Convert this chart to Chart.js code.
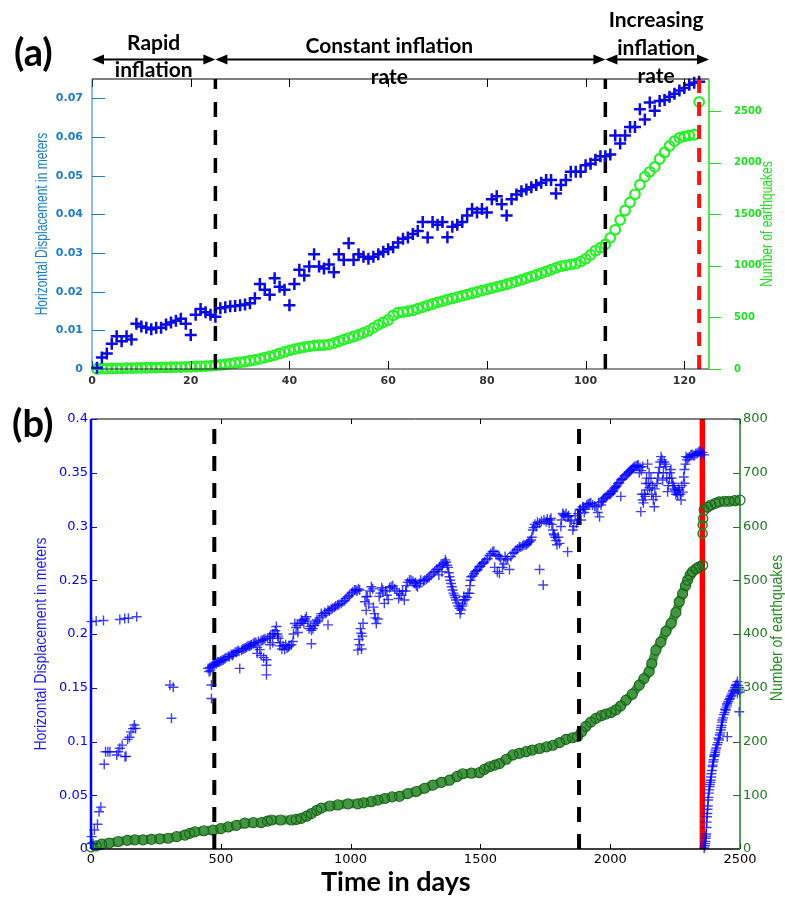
<!DOCTYPE html>
<html>
<head>
<meta charset="utf-8">
<title>Inflation and seismicity</title>
<script src="https://cdn.jsdelivr.net/npm/chart.js@4.4.1/dist/chart.umd.min.js"></script>
<style>
  body { margin: 0; background: #fff; }
  #page { position: relative; width: 785px; height: 898px; overflow: hidden; }
  canvas { position: absolute; left: 0; }
  #chartA { top: 0; }
  #chartB { top: 400px; }
  .tag { position: absolute; font-family: Lato, sans-serif; font-weight: bold; color: #000; white-space: nowrap; line-height: 1; }
</style>
</head>
<body>
<div id="page">
  <canvas id="chartA" width="785" height="400"></canvas>
  <canvas id="chartB" width="785" height="498"></canvas>
  <div class="tag" style="left:14px;top:32px;font-size:38px;">(a)</div>
  <div class="tag" style="left:12px;top:403px;font-size:38px;">(b)</div>
  <div class="tag" style="left:321px;top:867px;font-size:27px;">Time in days</div>
</div>
<script>
// ---- panel (a): one reading per day, starting at day 1 ----
const dispA = [
  0.0003, 0.003, 0.004, 0.0065, 0.0085, 0.0072, 0.0085, 0.0076, 0.0117, 0.011,
  0.0107, 0.0103, 0.0107, 0.0107, 0.0115, 0.012, 0.0125, 0.013, 0.0117, 0.0088,
  0.014, 0.0155, 0.0147, 0.014, 0.0135, 0.0157, 0.016, 0.0162, 0.0163, 0.0165,
  0.0167, 0.017, 0.0183, 0.022, 0.0205, 0.0192, 0.0235, 0.0213, 0.0205, 0.0165,
  0.022, 0.0257, 0.0242, 0.0265, 0.0297, 0.0265, 0.026, 0.027, 0.025, 0.0297,
  0.0282, 0.0325, 0.0282, 0.0297, 0.029, 0.0285, 0.029, 0.0297, 0.0303, 0.031,
  0.0315,
  0.0327, 0.0337, 0.034, 0.0349, 0.0357, 0.038, 0.034, 0.038, 0.0373, 0.038,
  0.0341, 0.0368, 0.0373, 0.038, 0.0397, 0.0414, 0.0405, 0.0414, 0.0405, 0.0439,
  0.0447, 0.0426, 0.0397, 0.0439, 0.0451, 0.046, 0.0464, 0.047, 0.0476, 0.0482,
  0.0489, 0.0489, 0.0454, 0.0476, 0.0489, 0.051, 0.051, 0.051, 0.0527, 0.0531,
  0.0541, 0.055, 0.055, 0.0555, 0.0604, 0.0583, 0.0604, 0.0626, 0.0626, 0.0672,
  0.0645, 0.0689, 0.0668, 0.0693, 0.0696, 0.0704, 0.0712, 0.072, 0.0727, 0.0735,
  0.074, 0.0743
];
const quakesA = [
  2, 3, 4, 5, 6, 7, 8, 9, 10, 11,
  12, 13, 14, 15, 16, 17, 18, 19, 20, 22,
  24, 26, 28, 31, 35, 40, 45, 52, 58, 65,
  72, 80, 88, 98, 110, 122, 135, 150, 165, 180,
  192, 202, 212, 220, 226, 230, 232, 236, 250, 268,
  285, 300, 315, 330, 350, 370, 398, 428, 452, 475,
  520, 545, 552, 560, 568, 585, 600, 615, 630, 646,
  658, 672, 684, 697, 709, 721, 734, 746, 759, 771,
  784, 796, 808, 821, 834, 849, 864, 880, 895, 911,
  928, 945, 962, 980, 996, 1005, 1013, 1021, 1040, 1068,
  1105, 1146, 1176, 1208, 1271, 1349, 1443, 1536, 1614, 1693,
  1786, 1864, 1911, 1958, 2035, 2098, 2161, 2208, 2239, 2254,
  2264, 2270, 2588
];
const dayTicksA = [0, 20, 40, 60, 80, 100, 120];
const dispTicksA = [0, 0.01, 0.02, 0.03, 0.04, 0.05, 0.06, 0.07];
const quakeTicksA = [0, 500, 1000, 1500, 2000, 2500];
const phaseBoundsA = [0, 25, 104, 125];
const phaseNamesA = [['Rapid', 'inflation'], ['Constant inflation', 'rate'], ['Increasing', 'inflation', 'rate']];
const eruptionA = 123;

// ---- panel (b): [day, value] ----
const dispB = [
  // before the first break
  [2, 0.2115], [20, 0.212], [48, 0.2125], [111, 0.2135], [130, 0.2145], [144, 0.2147], [176, 0.216],
  [3, 0.0115], [8, 0.005], [13, 0.0177], [25, 0.023], [31, 0.0347], [38, 0.039], [51, 0.0788],
  [56, 0.0905], [65, 0.0905], [73, 0.0905], [99, 0.0874], [105, 0.0905], [111, 0.0937], [120, 0.0966],
  [131, 0.0859], [135, 0.0862], [141, 0.102], [148, 0.104], [154, 0.109], [162, 0.112], [167, 0.1153], [172, 0.1122],
  [304, 0.1526], [317, 0.1504], [310, 0.1216], [464, 0.1526], [464, 0.14],
  // steady inflation
  [451, 0.168], [455, 0.165], [458, 0.169], [460, 0.166], [466, 0.17], [470, 0.171], [474, 0.1715], [477, 0.1727],
  [482, 0.172], [486, 0.1735], [490, 0.174], [494, 0.174], [500, 0.175], [505, 0.1755], [510, 0.176], [515, 0.177],
  [520, 0.178], [528, 0.179], [533, 0.179], [540, 0.181], [545, 0.18], [548, 0.1815], [555, 0.183], [560, 0.183],
  [565, 0.1845], [570, 0.184], [573, 0.168], [580, 0.185], [585, 0.186], [590, 0.1865], [595, 0.187], [600, 0.188],
  [605, 0.189], [610, 0.1885], [615, 0.1895], [618, 0.19], [625, 0.191], [630, 0.192], [635, 0.192], [640, 0.1875],
  [640, 0.182], [645, 0.193], [650, 0.1855], [655, 0.194], [655, 0.18], [660, 0.194], [665, 0.195], [665, 0.178],
  [670, 0.1955], [676, 0.176], [676, 0.162], [676, 0.171], [680, 0.196], [688, 0.1975], [690, 0.19], [692, 0.198],
  [700, 0.2], [700, 0.192], [705, 0.2], [710, 0.203], [714, 0.207], [718, 0.2], [720, 0.198], [722, 0.196],
  [727, 0.189], [730, 0.192], [735, 0.186], [740, 0.189], [746, 0.1855], [750, 0.19], [755, 0.187], [760, 0.188],
  [765, 0.189], [772, 0.19], [778, 0.193], [780, 0.2], [785, 0.2098], [790, 0.206], [795, 0.208], [797, 0.2014],
  [805, 0.21], [810, 0.213], [815, 0.212], [820, 0.21], [825, 0.214], [830, 0.216], [835, 0.212], [840, 0.205],
  [845, 0.207], [849, 0.2035], [849, 0.191], [855, 0.205], [860, 0.208], [865, 0.21], [870, 0.213], [874, 0.2116],
  [880, 0.215], [887, 0.219], [893, 0.217], [900, 0.22], [905, 0.219], [913, 0.222], [913, 0.2085], [918, 0.2215],
  [925, 0.223], [930, 0.224], [938, 0.225], [943, 0.226], [950, 0.227], [955, 0.2275], [964, 0.2285], [970, 0.23],
  [977, 0.231], [983, 0.233], [990, 0.2347], [995, 0.236], [1003, 0.238], [1008, 0.239], [1015, 0.241], [1020, 0.241],
  [1025, 0.24], [1030, 0.242], [1035, 0.241], [1028, 0.185], [1032, 0.195], [1035, 0.19], [1038, 0.205], [1041, 0.2007],
  [1042, 0.186], [1045, 0.198], [1048, 0.21], [1055, 0.23], [1060, 0.2347], [1060, 0.222], [1065, 0.235], [1070, 0.228],
  [1075, 0.24], [1080, 0.244], [1085, 0.242], [1088, 0.225], [1092, 0.219], [1095, 0.215], [1099, 0.2098], [1105, 0.214],
  [1110, 0.235], [1115, 0.238], [1120, 0.243], [1124, 0.241], [1130, 0.2285], [1135, 0.24], [1140, 0.236], [1145, 0.232],
  [1150, 0.243], [1156, 0.244], [1162, 0.245], [1170, 0.242], [1178, 0.24], [1185, 0.233], [1188, 0.2378], [1195, 0.236],
  [1200, 0.24], [1207, 0.2316], [1212, 0.24], [1215, 0.245], [1220, 0.248], [1227, 0.2502], [1233, 0.25], [1240, 0.249],
  [1246, 0.247], [1250, 0.248], [1253, 0.245], [1258, 0.244], [1265, 0.247], [1270, 0.25], [1280, 0.249], [1285, 0.25],
  [1292, 0.251], [1298, 0.252], [1304, 0.2533], [1310, 0.255], [1318, 0.257], [1323, 0.258], [1330, 0.26], [1336, 0.26],
  [1340, 0.255], [1342, 0.2626], [1348, 0.264], [1352, 0.258], [1355, 0.265], [1360, 0.266], [1365, 0.269], [1368, 0.267],
  [1372, 0.264], [1375, 0.262], [1378, 0.257], [1381, 0.2533], [1384, 0.25], [1387, 0.247], [1390, 0.244], [1393, 0.241],
  [1396, 0.238], [1400, 0.236], [1403, 0.234], [1406, 0.2316], [1410, 0.229], [1415, 0.226], [1420, 0.224], [1422, 0.219],
  [1426, 0.2223], [1430, 0.226], [1432, 0.228], [1436, 0.235], [1438, 0.2316], [1442, 0.232], [1448, 0.234], [1452, 0.238],
  [1458, 0.2378], [1460, 0.245], [1462, 0.25], [1465, 0.2533], [1470, 0.254], [1475, 0.256], [1480, 0.258], [1485, 0.259],
  [1490, 0.26], [1496, 0.2626], [1500, 0.263], [1505, 0.265], [1510, 0.266], [1515, 0.267], [1522, 0.269], [1528, 0.27],
  [1535, 0.273], [1540, 0.275], [1547, 0.2766], [1552, 0.277], [1555, 0.262], [1560, 0.274], [1565, 0.258], [1568, 0.273],
  [1573, 0.272], [1573, 0.2564], [1578, 0.27], [1585, 0.262], [1590, 0.265], [1595, 0.272], [1599, 0.269], [1605, 0.27],
  [1612, 0.26], [1618, 0.272], [1625, 0.275], [1630, 0.276], [1637, 0.278], [1643, 0.279], [1650, 0.2812], [1656, 0.281],
  [1663, 0.282], [1668, 0.283], [1676, 0.2828], [1680, 0.284], [1685, 0.285], [1690, 0.286], [1695, 0.2874], [1698, 0.29],
  [1702, 0.2967], [1705, 0.299], [1710, 0.302], [1715, 0.3], [1720, 0.304], [1728, 0.303], [1728, 0.26], [1735, 0.305],
  [1742, 0.2456], [1745, 0.306], [1753, 0.3044], [1758, 0.307], [1765, 0.303], [1768, 0.306], [1772, 0.3076], [1775, 0.302],
  [1779, 0.2967], [1782, 0.293], [1785, 0.292], [1788, 0.29], [1792, 0.287], [1795, 0.283], [1800, 0.29], [1805, 0.2843],
  [1810, 0.3], [1812, 0.306], [1817, 0.3122], [1820, 0.311], [1825, 0.31], [1830, 0.312], [1836, 0.309], [1836, 0.2766],
  [1840, 0.31], [1845, 0.305], [1850, 0.306], [1856, 0.2967], [1860, 0.3], [1865, 0.31], [1870, 0.303], [1876, 0.312],
  [1882, 0.3153], [1885, 0.316], [1888, 0.306], [1894, 0.3184], [1898, 0.318], [1900, 0.313], [1905, 0.316], [1910, 0.32],
  [1915, 0.321], [1920, 0.3215], [1925, 0.322], [1932, 0.32], [1940, 0.319], [1946, 0.3184], [1952, 0.313], [1955, 0.322],
  [1959, 0.309], [1965, 0.32], [1968, 0.323], [1972, 0.3247], [1975, 0.326], [1980, 0.327], [1985, 0.328], [1990, 0.3293],
  [1995, 0.33], [2000, 0.33], [2004, 0.331], [2009, 0.3324], [2012, 0.333], [2015, 0.335], [2018, 0.336], [2022, 0.337],
  [2025, 0.338], [2030, 0.34], [2035, 0.341], [2041, 0.3433], [2041, 0.328], [2045, 0.344], [2050, 0.345], [2055, 0.347],
  [2061, 0.348], [2065, 0.349], [2070, 0.35], [2075, 0.351], [2078, 0.352], [2082, 0.353], [2086, 0.354], [2090, 0.355],
  [2095, 0.356], [2100, 0.356], [2105, 0.357], [2108, 0.357], [2112, 0.35], [2115, 0.355], [2118, 0.3138], [2120, 0.352],
  [2122, 0.33], [2125, 0.3557], [2125, 0.3247], [2128, 0.322], [2132, 0.33], [2135, 0.328], [2138, 0.34], [2140, 0.345],
  [2144, 0.358], [2144, 0.3339], [2148, 0.34], [2150, 0.35], [2152, 0.336], [2157, 0.3448], [2160, 0.33], [2163, 0.338],
  [2166, 0.325], [2170, 0.3184], [2172, 0.335], [2176, 0.328], [2180, 0.34], [2183, 0.345], [2186, 0.35], [2190, 0.355],
  [2193, 0.36], [2196, 0.365], [2200, 0.362], [2202, 0.3433], [2205, 0.35], [2208, 0.36], [2212, 0.358], [2215, 0.3557],
  [2218, 0.345], [2221, 0.3324], [2224, 0.338], [2228, 0.345], [2230, 0.35], [2234, 0.353], [2237, 0.345], [2240, 0.3402],
  [2244, 0.338], [2247, 0.335], [2250, 0.334], [2253, 0.33], [2256, 0.332], [2260, 0.3293], [2263, 0.336], [2266, 0.334],
  [2270, 0.33], [2273, 0.3247], [2276, 0.338], [2280, 0.332], [2283, 0.346], [2286, 0.3402], [2286, 0.353], [2290, 0.358],
  [2292, 0.365], [2296, 0.362], [2300, 0.364], [2305, 0.365], [2311, 0.3666], [2315, 0.367], [2320, 0.366], [2325, 0.366],
  [2330, 0.368], [2335, 0.368], [2340, 0.369], [2345, 0.37], [2350, 0.367], [2355, 0.369], [2362, 0.3666],
  // after the eruption
  [2362, 0.001], [2365, 0.003], [2366, 0.005], [2367, 0.007], [2368, 0.01], [2369, 0.012], [2370, 0.014], [2371, 0.02],
  [2372, 0.025], [2373, 0.03], [2374, 0.033], [2375, 0.037], [2376, 0.04], [2377, 0.0456], [2378, 0.048], [2380, 0.052],
  [2381, 0.055], [2383, 0.058], [2384, 0.06], [2386, 0.062], [2387, 0.064], [2389, 0.067], [2390, 0.07], [2392, 0.073],
  [2394, 0.0766], [2395, 0.078], [2397, 0.081], [2398, 0.083], [2400, 0.0859], [2402, 0.087], [2403, 0.088], [2405, 0.09],
  [2406, 0.092], [2409, 0.094], [2412, 0.097], [2415, 0.099], [2417, 0.103], [2419, 0.1014], [2422, 0.106], [2424, 0.108],
  [2426, 0.1107], [2428, 0.113], [2429, 0.115], [2431, 0.118], [2432, 0.12], [2435, 0.122], [2438, 0.125], [2441, 0.127],
  [2443, 0.13], [2445, 0.1293], [2448, 0.132], [2450, 0.134], [2451, 0.1355], [2451, 0.1045], [2455, 0.137], [2458, 0.139],
  [2461, 0.14], [2464, 0.1417], [2467, 0.143], [2470, 0.145], [2473, 0.147], [2477, 0.148], [2480, 0.15], [2483, 0.152],
  [2486, 0.153], [2490, 0.1557], [2490, 0.145], [2493, 0.152], [2495, 0.148], [2497, 0.1277], [2497, 0.15], [2499, 0.146]
];
const quakesB = [
  [0, 4], [20, 6], [41, 9], [70, 11], [105, 14], [140, 16], [169, 17], [200, 17], [233, 18], [265, 19],
  [297, 20], [330, 23], [362, 26], [380, 29], [400, 32], [435, 34], [470, 35], [500, 38], [528, 41], [560, 44],
  [592, 48], [625, 49], [656, 49], [680, 52], [695, 54], [730, 54], [772, 54], [790, 55], [810, 57], [830, 61],
  [849, 66], [870, 72], [887, 76], [920, 80], [951, 82], [990, 84], [1028, 84], [1050, 86], [1079, 88], [1105, 91],
  [1131, 94], [1160, 97], [1188, 98], [1220, 103], [1253, 107], [1285, 113], [1317, 119], [1350, 124], [1381, 128], [1410, 135],
  [1432, 140], [1465, 141], [1496, 142], [1515, 148], [1535, 153], [1555, 156], [1573, 159], [1600, 167], [1625, 175], [1650, 178],
  [1676, 181], [1700, 184], [1728, 187], [1755, 190], [1779, 193], [1805, 198], [1830, 204], [1855, 207], [1874, 209], [1890, 218],
  [1906, 228], [1925, 236], [1945, 243], [1965, 248], [1983, 251], [2003, 254], [2022, 259], [2040, 266], [2061, 277], [2085, 288],
  [2112, 305], [2130, 317], [2150, 330], [2160, 345], [2176, 370], [2195, 385], [2215, 405], [2235, 420], [2253, 440], [2266, 460],
  [2279, 475], [2290, 490], [2298, 500], [2308, 510], [2317, 516], [2330, 521], [2343, 525], [2356, 528]
];
const quakesJumpB = [[2356, 587], [2356, 603], [2358, 615]];
const quakesAfterB = [
  [2362, 631], [2375, 636], [2388, 640], [2405, 643], [2420, 646], [2440, 647], [2458, 647], [2480, 648], [2500, 649]
];
const dayTicksB = [0, 500, 1000, 1500, 2000, 2500];
const dispTicksB = [0, 0.05, 0.1, 0.15, 0.2, 0.25, 0.3, 0.35, 0.4];
const quakeTicksB = [0, 100, 200, 300, 400, 500, 600, 700, 800];
const phaseBoundsB = [475, 1880];
const eruptionB = 2355;

const blueA = '#1b7cc8';
const greenA = '#1fe01f';
const greenB = '#1d7a1d';

const daily = arr => arr.map((y, i) => ({ x: i + 1, y }));
const pts = arr => arr.map(([x, y]) => ({ x, y }));
const vline = (x, y0, y1) => [{ x, y: y0 }, { x, y: y1 }];
const fixedTicks = list => scale => { scale.ticks = list.map(value => ({ value })); };
const num = v => String(+(+v).toFixed(3));

function seg(ctx, x1, y1, x2, y2, color, width) {
  ctx.beginPath();
  ctx.strokeStyle = color;
  ctx.lineWidth = width;
  ctx.moveTo(x1, y1);
  ctx.lineTo(x2, y2);
  ctx.stroke();
}

// box round the plot with inward/outward tick marks, matlab style
const axesFrame = {
  id: 'axesFrame',
  afterDatasetsDraw(chart, args, o) {
    const { ctx, chartArea: a, scales } = chart;
    ctx.save();
    seg(ctx, a.left, a.top, a.right, a.top, o.topColor, 1);
    seg(ctx, a.left, a.bottom, a.right, a.bottom, o.bottomColor, o.bottomWidth);
    for (const t of scales.x.ticks) {
      const px = Math.round(scales.x.getPixelForValue(t.value)) + 0.5;
      seg(ctx, px, a.top, px, a.top + o.xTick, '#000', 1);
      seg(ctx, px, a.bottom, px, a.bottom - o.xTick, '#000', 1);
    }
    seg(ctx, a.left, a.top, a.left, a.bottom, o.leftColor, o.leftWidth);
    for (const t of scales.y.ticks) {
      const py = Math.round(scales.y.getPixelForValue(t.value)) + 0.5;
      seg(ctx, a.left, py, a.left + o.yTick, py, o.leftColor, 1);
    }
    seg(ctx, a.right, a.top, a.right, a.bottom, o.rightColor, o.rightWidth);
    for (const t of scales.y1.ticks) {
      const py = Math.round(scales.y1.getPixelForValue(t.value)) + 0.5;
      seg(ctx, a.right, py, a.right + o.y1Tick, py, o.rightColor, 1);
    }
    ctx.restore();
  }
};

// vertical axis titles, both reading bottom to top
const sideTitles = {
  id: 'sideTitles',
  afterDraw(chart, args, o) {
    const { ctx, chartArea: a } = chart;
    const cy = (a.top + a.bottom) / 2;
    for (const t of o.items || []) {
      ctx.save();
      ctx.translate(t.side === 'left' ? a.left - t.offset : a.right + t.offset, cy + (t.dy || 0));
      ctx.rotate(-Math.PI / 2);
      ctx.scale(1, t.stretch || 1);
      ctx.font = t.font;
      ctx.fillStyle = t.color;
      ctx.textAlign = 'center';
      ctx.textBaseline = 'middle';
      ctx.fillText(t.text, 0, 0);
      ctx.restore();
    }
  }
};

// double-headed arrows over the top axis naming each inflation phase
const phaseArrows = {
  id: 'phaseArrows',
  afterDraw(chart, args, o) {
    if (!o.bounds) return;
    const { ctx, scales: { x } } = chart;
    const y = o.y, head = 12, half = 5;
    ctx.save();
    ctx.fillStyle = '#000';
    ctx.strokeStyle = '#000';
    ctx.lineWidth = 2;
    for (let i = 0; i < o.bounds.length - 1; i++) {
      const x1 = x.getPixelForValue(o.bounds[i]);
      const x2 = x.getPixelForValue(o.bounds[i + 1]);
      ctx.beginPath();
      ctx.moveTo(x1 + head - 2, y);
      ctx.lineTo(x2 - head + 2, y);
      ctx.stroke();
      ctx.beginPath();
      ctx.moveTo(x1, y); ctx.lineTo(x1 + head, y - half); ctx.lineTo(x1 + head, y + half); ctx.closePath();
      ctx.fill();
      ctx.beginPath();
      ctx.moveTo(x2, y); ctx.lineTo(x2 - head, y - half); ctx.lineTo(x2 - head, y + half); ctx.closePath();
      ctx.fill();

      ctx.font = 'bold 21px Lato';
      ctx.textAlign = 'center';
      ctx.textBaseline = 'middle';
      const cx = (x1 + x2) / 2 + o.dx[i];
      o.names[i].forEach((line, j) => ctx.fillText(line, cx, o.rows[i][j]));
    }
    ctx.restore();
  }
};

const noGrid = { display: false, drawTicks: false };

new Chart(document.getElementById('chartA'), {
  type: 'scatter',
  data: {
    datasets: [
      {
        data: daily(dispA), yAxisID: 'y', order: 1, clip: false,
        pointStyle: 'cross', pointRadius: 6, pointBorderWidth: 2.5,
        borderColor: 'rgb(10,10,225)'
      },
      {
        data: daily(quakesA), yAxisID: 'y1', order: 3, clip: false,
        pointStyle: 'circle', pointRadius: 4.8, pointBorderWidth: 2.2,
        borderColor: 'rgb(40,240,40)', backgroundColor: 'transparent'
      },
      {
        data: vline(phaseBoundsA[1], 0, 0.075), yAxisID: 'y', order: 2, showLine: true,
        pointRadius: 0, borderColor: '#000', borderWidth: 3.5, borderDash: [15, 13]
      },
      {
        data: vline(phaseBoundsA[2], 0, 0.075), yAxisID: 'y', order: 2, showLine: true,
        pointRadius: 0, borderColor: '#000', borderWidth: 3.5, borderDash: [15, 13]
      },
      {
        data: vline(eruptionA, 0, 0.075), yAxisID: 'y', order: 0, showLine: true,
        pointRadius: 0, borderColor: '#ff1111', borderWidth: 4, borderDash: [14, 9]
      }
    ]
  },
  options: {
    responsive: false,
    animation: false,
    devicePixelRatio: 1,
    layout: { padding: { top: 79, left: 0, right: 0, bottom: 0 } },
    plugins: {
      legend: { display: false },
      tooltip: { enabled: false },
      axesFrame: {
        topColor: '#000', bottomColor: '#222', bottomWidth: 1,
        leftColor: blueA, leftWidth: 1, rightColor: greenA, rightWidth: 1.5,
        xTick: 8, yTick: 13, y1Tick: 12
      },
      sideTitles: {
        items: [
          { side: 'left', offset: 49, text: 'Horizontal Displacement in meters', font: '12px "Liberation Sans"', color: blueA, stretch: 1.3 },
          { side: 'right', offset: 59, text: 'Number of earthquakes', font: '12px "Liberation Sans"', color: greenA, stretch: 1.3 }
        ]
      },
      phaseArrows: {
        y: 59.5,
        bounds: phaseBoundsA,
        names: phaseNamesA,
        dx: [0, -21, -1],
        rows: [[43, 70], [46, 77], [20, 48, 76]]
      }
    },
    scales: {
      x: {
        type: 'linear', min: 0, max: 125,
        afterBuildTicks: fixedTicks(dayTicksA),
        afterFit: s => { s.height = 21; },
        grid: noGrid, border: { display: false },
        ticks: {
          padding: 6, maxRotation: 0, autoSkip: false, callback: num,
          color: '#333', font: { family: 'DejaVu Sans', size: 11, weight: 'bold' }
        }
      },
      y: {
        position: 'left', min: 0, max: 0.075,
        afterBuildTicks: fixedTicks(dispTicksA),
        afterFit: s => { s.width = 92; },
        grid: noGrid, border: { display: false },
        ticks: {
          padding: 9, autoSkip: false, callback: num,
          color: blueA, font: { family: 'DejaVu Sans', size: 11, weight: 'bold' }
        }
      },
      y1: {
        position: 'right', min: 0, max: 2810,
        afterBuildTicks: fixedTicks(quakeTicksA),
        afterFit: s => { s.width = 76; },
        grid: noGrid, border: { display: false },
        ticks: {
          padding: 25, autoSkip: false, callback: num,
          color: greenA, font: { family: 'DejaVu Sans', size: 10, weight: 'bold' }
        }
      }
    }
  },
  plugins: [axesFrame, sideTitles, phaseArrows]
});

new Chart(document.getElementById('chartB'), {
  type: 'scatter',
  data: {
    datasets: [
      {
        data: pts(dispB), yAxisID: 'y', order: 1, clip: false,
        pointStyle: 'cross', pointRadius: 5, pointBorderWidth: 1.4,
        borderColor: 'rgba(0,0,255,0.75)'
      },
      {
        data: pts(quakesB), yAxisID: 'y1', order: 3, clip: false, showLine: true,
        borderColor: 'rgba(35,130,35,0.85)', borderWidth: 9,
        pointRadius: 5, pointBorderWidth: 1.2, pointBorderColor: 'rgb(25,105,25)',
        pointBackgroundColor: 'transparent'
      },
      {
        data: pts(quakesAfterB), yAxisID: 'y1', order: 3, clip: false, showLine: true,
        borderColor: 'rgba(35,130,35,0.85)', borderWidth: 9,
        pointRadius: 5, pointBorderWidth: 1.2, pointBorderColor: 'rgb(25,105,25)',
        pointBackgroundColor: 'transparent'
      },
      {
        data: pts(quakesJumpB), yAxisID: 'y1', order: 0, clip: false,
        pointRadius: 4.5, pointBorderWidth: 1.5, borderColor: 'rgb(40,125,40)',
        backgroundColor: 'transparent'
      },
      {
        data: vline(phaseBoundsB[0], 0, 0.398), yAxisID: 'y', order: 2, showLine: true,
        pointRadius: 0, borderColor: '#000', borderWidth: 4, borderDash: [15, 12]
      },
      {
        data: vline(phaseBoundsB[1], 0, 0.398), yAxisID: 'y', order: 2, showLine: true,
        pointRadius: 0, borderColor: '#000', borderWidth: 4, borderDash: [15, 12]
      },
      {
        data: vline(eruptionB, 0, 0.4), yAxisID: 'y', order: 4, showLine: true,
        pointRadius: 0, borderColor: '#ff0000', borderWidth: 5.5
      }
    ]
  },
  options: {
    responsive: false,
    animation: false,
    devicePixelRatio: 1,
    layout: { padding: { top: 19, left: 0, right: 0, bottom: 0 } },
    plugins: {
      legend: { display: false },
      tooltip: { enabled: false },
      axesFrame: {
        topColor: '#000', bottomColor: '#000', bottomWidth: 1.5,
        leftColor: '#0000ff', leftWidth: 2.5, rightColor: greenB, rightWidth: 1.5,
        xTick: 5, yTick: 6, y1Tick: -7
      },
      sideTitles: {
        items: [
          { side: 'left', offset: 49, dy: 10, text: 'Horizontal Displacement in meters', font: '14px "Liberation Sans"', color: '#1a1aff', stretch: 1.15 },
          { side: 'right', offset: 38, dy: -6, text: 'Number of earthquakes', font: '14px "Liberation Sans"', color: '#228b22', stretch: 1.15 }
        ]
      }
    },
    scales: {
      x: {
        type: 'linear', min: 0, max: 2500,
        afterBuildTicks: fixedTicks(dayTicksB),
        afterFit: s => { s.height = 49; },
        grid: noGrid, border: { display: false },
        ticks: {
          padding: 3, maxRotation: 0, autoSkip: false, callback: num,
          color: '#000', font: { family: 'DejaVu Sans', size: 13 }
        }
      },
      y: {
        position: 'left', min: 0, max: 0.4,
        afterBuildTicks: fixedTicks(dispTicksB),
        afterFit: s => { s.width = 91; },
        grid: noGrid, border: { display: false },
        ticks: {
          padding: 3, autoSkip: false, callback: num,
          color: '#0000ff', font: { family: 'DejaVu Sans', size: 13 }
        }
      },
      y1: {
        position: 'right', min: 0, max: 800,
        afterBuildTicks: fixedTicks(quakeTicksB),
        afterFit: s => { s.width = 45; },
        grid: noGrid, border: { display: false },
        ticks: {
          padding: 3, autoSkip: false, callback: num,
          color: greenB, font: { family: 'DejaVu Sans', size: 13 }
        }
      }
    }
  },
  plugins: [axesFrame, sideTitles]
});
</script>
</body>
</html>
